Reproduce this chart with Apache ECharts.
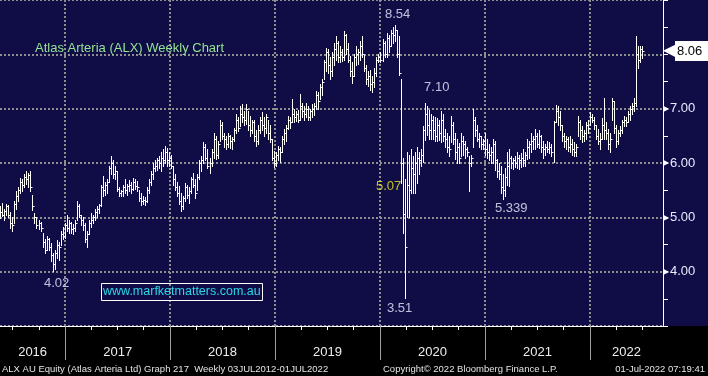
<!DOCTYPE html>
<html>
<head>
<meta charset="utf-8">
<script src="https://cdn.jsdelivr.net/npm/echarts@6/dist/echarts.min.js"></script>
<style>
html,body{margin:0;padding:0;background:#000;}
#chart{width:708px;height:376px;background:linear-gradient(#100c46 0,#100c46 326px,#000 326px);}
</style>
</head>
<body>
<div id="chart"></div>
<script>
// weekly bars, first week ending 20 May 2016, last 01 Jul 2022
const firstWeek = Date.UTC(2016, 4, 20);

const high = [
  5.20,5.27,5.15,5.25,5.22,5.10,5.00,5.30,5.48,5.55,
  5.73,5.70,5.80,5.85,5.82,5.85,5.42,5.08,5.00,4.96,
  4.92,4.71,4.60,4.65,4.62,4.52,4.35,4.40,4.59,4.55,
  4.75,4.83,4.90,5.05,4.95,4.92,4.88,4.95,5.30,5.25,
  5.05,5.00,4.90,4.75,4.95,5.08,5.05,5.15,5.20,5.25,
  5.60,5.76,5.65,5.70,5.95,6.13,6.05,5.95,5.85,5.55,
  5.51,5.60,5.70,5.62,5.68,5.65,5.72,5.70,5.66,5.51,
  5.45,5.40,5.38,5.55,5.70,5.85,6.00,6.05,6.10,6.13,
  6.20,6.25,6.31,6.28,6.20,6.15,5.94,5.80,5.65,5.57,
  5.45,5.40,5.64,5.60,5.55,5.75,5.82,5.70,5.80,6.05,
  6.13,6.38,6.35,6.25,6.10,6.25,6.56,6.50,6.40,6.80,
  6.75,6.56,6.50,6.55,6.52,6.48,6.65,6.90,6.85,7.05,
  7.08,6.95,7.08,6.95,6.87,6.80,6.80,6.60,6.70,6.85,
  6.93,6.85,6.90,6.80,6.70,6.45,6.23,6.20,6.32,6.30,
  6.50,6.62,6.70,6.87,6.85,7.17,6.99,6.95,6.98,7.27,
  7.11,7.05,7.10,7.05,7.00,7.08,7.10,7.33,7.30,7.45,
  7.54,7.90,8.12,8.10,7.95,8.05,8.20,8.34,8.25,8.15,
  8.10,8.43,8.38,8.20,7.97,7.85,8.00,8.15,8.10,8.25,
  8.34,7.98,7.80,7.70,7.72,7.60,7.75,7.95,8.00,8.05,
  8.28,8.25,8.40,8.35,8.45,8.50,8.54,8.45,8.34,7.55,
  6.10,5.70,6.20,6.15,6.25,6.13,6.20,6.30,6.20,6.25,
  6.68,7.10,7.05,6.98,6.90,6.87,6.85,6.82,6.80,6.95,
  6.90,6.62,6.55,6.50,6.87,6.75,6.55,6.45,6.37,6.55,
  6.50,6.40,6.30,6.13,6.15,6.99,6.85,6.70,6.55,6.50,
  6.45,6.55,6.45,6.35,6.30,6.44,6.40,6.07,6.00,5.95,
  5.80,5.90,6.20,6.26,6.13,6.10,6.12,6.20,6.15,6.18,
  6.26,6.20,6.44,6.40,6.56,6.50,6.63,6.55,6.60,6.52,
  6.40,6.35,6.40,6.38,6.35,6.78,7.07,7.05,6.95,6.70,
  6.55,6.50,6.48,6.50,6.45,6.38,6.35,6.87,6.80,6.68,
  6.60,6.75,6.80,6.93,6.90,6.85,6.70,6.62,6.55,6.82,
  7.20,6.75,6.62,6.55,7.20,7.15,6.70,6.60,6.68,6.80,
  6.87,6.85,6.95,7.05,7.10,7.20,8.34,8.15,8.15,8.15
];

const low = [
  4.98,5.02,4.96,5.05,5.00,4.80,4.74,4.90,5.15,5.30,
  5.45,5.48,5.55,5.62,5.55,5.48,5.14,4.90,4.80,4.78,
  4.75,4.45,4.34,4.40,4.40,4.20,4.02,4.05,4.25,4.22,
  4.50,4.60,4.62,4.75,4.71,4.72,4.70,4.75,4.95,5.00,
  4.85,4.77,4.55,4.46,4.70,4.83,4.90,4.96,5.00,5.08,
  5.20,5.40,5.42,5.45,5.65,5.80,5.72,5.70,5.48,5.40,
  5.39,5.40,5.45,5.42,5.48,5.44,5.50,5.52,5.48,5.30,
  5.23,5.25,5.22,5.28,5.45,5.60,5.70,5.85,5.88,5.90,
  5.85,5.95,6.00,5.95,5.94,5.90,5.60,5.50,5.39,5.25,
  5.11,5.15,5.30,5.35,5.27,5.45,5.55,5.36,5.50,5.70,
  5.85,6.00,6.05,5.90,5.82,5.95,6.10,6.07,6.10,6.40,
  6.44,6.30,6.26,6.30,6.28,6.26,6.40,6.56,6.58,6.68,
  6.75,6.70,6.72,6.60,6.50,6.55,6.40,6.32,6.35,6.55,
  6.60,6.50,6.55,6.45,6.38,6.05,5.92,5.95,6.05,6.01,
  6.20,6.35,6.40,6.62,6.65,6.75,6.75,6.78,6.75,6.80,
  6.85,6.80,6.85,6.80,6.80,6.85,6.88,7.00,6.99,7.17,
  7.25,7.54,7.70,7.65,7.54,7.60,7.80,7.90,7.85,7.85,
  7.88,7.90,8.00,7.85,7.60,7.48,7.60,7.80,7.82,7.90,
  7.95,7.70,7.45,7.42,7.35,7.30,7.40,7.60,7.85,7.85,
  7.88,7.95,7.95,8.05,8.15,8.20,8.25,7.95,7.62,5.64,
  4.72,3.51,5.00,5.00,5.45,5.45,5.45,5.63,5.80,5.95,
  6.01,6.43,6.52,6.45,6.45,6.45,6.40,6.40,6.42,6.38,
  6.40,6.30,6.20,6.13,6.38,6.35,6.07,6.00,6.00,6.13,
  6.15,6.10,6.12,5.48,5.95,6.30,6.50,6.40,6.30,6.25,
  6.25,6.15,6.10,6.05,6.00,6.00,5.88,5.75,5.70,5.45,
  5.34,5.40,5.60,5.58,5.90,5.89,5.92,5.90,5.89,5.92,
  5.95,5.95,6.07,6.10,6.20,6.25,6.26,6.30,6.28,6.20,
  6.10,6.15,6.20,6.18,6.12,6.01,6.75,6.70,6.60,6.40,
  6.30,6.25,6.22,6.20,6.15,6.13,6.13,6.50,6.45,6.38,
  6.40,6.45,6.55,6.70,6.75,6.62,6.45,6.35,6.26,6.45,
  6.44,6.45,6.26,6.20,6.80,6.55,6.30,6.35,6.50,6.55,
  6.68,6.68,6.75,6.80,6.90,6.95,7.05,7.75,7.85,7.94
];

const close = [
  5.10,5.05,5.12,5.20,5.05,4.90,4.85,5.25,5.40,5.50,
  5.65,5.60,5.75,5.70,5.78,5.55,5.20,5.00,4.85,4.90,
  4.80,4.55,4.40,4.60,4.45,4.30,4.15,4.35,4.50,4.45,
  4.70,4.65,4.85,4.80,4.90,4.78,4.80,4.90,5.20,5.05,
  4.95,4.85,4.60,4.70,4.90,4.95,5.00,5.10,5.15,5.22,
  5.55,5.50,5.60,5.65,5.90,6.00,5.80,5.85,5.52,5.45,
  5.48,5.55,5.50,5.58,5.60,5.52,5.65,5.58,5.55,5.35,
  5.30,5.32,5.30,5.50,5.65,5.80,5.90,5.95,6.05,6.00,
  6.10,6.05,6.20,6.05,6.10,5.95,5.70,5.55,5.45,5.30,
  5.20,5.35,5.55,5.42,5.48,5.70,5.60,5.45,5.75,6.00,
  6.05,6.30,6.10,5.95,6.00,6.20,6.45,6.15,6.35,6.70,
  6.50,6.45,6.35,6.50,6.40,6.45,6.60,6.80,6.65,6.90,
  6.85,6.80,7.00,6.70,6.60,6.75,6.50,6.40,6.60,6.80,
  6.70,6.65,6.85,6.55,6.45,6.10,6.00,6.15,6.25,6.20,
  6.45,6.55,6.65,6.80,6.75,6.90,6.85,6.90,6.80,7.05,
  6.95,6.90,7.00,6.85,6.95,7.00,7.05,7.25,7.15,7.40,
  7.50,7.85,8.05,7.80,7.70,7.95,8.10,8.20,7.95,8.05,
  7.95,8.35,8.10,7.90,7.70,7.60,7.95,8.00,8.05,8.15,
  8.00,7.75,7.55,7.60,7.45,7.50,7.65,7.90,7.95,7.90,
  8.20,8.00,8.30,8.15,8.40,8.35,8.45,8.00,7.65,6.00,
  5.07,4.45,5.60,5.50,5.90,5.80,6.00,6.10,6.05,6.15,
  6.60,6.90,6.70,6.60,6.80,6.60,6.50,6.70,6.55,6.80,
  6.50,6.45,6.30,6.25,6.70,6.45,6.20,6.30,6.10,6.40,
  6.35,6.25,6.20,6.00,6.10,6.80,6.60,6.45,6.50,6.35,
  6.40,6.25,6.20,6.15,6.20,6.35,6.05,5.85,5.80,5.55,
  5.50,5.75,5.95,6.10,6.00,6.05,6.00,6.10,6.05,6.10,
  6.05,6.15,6.30,6.35,6.40,6.45,6.50,6.35,6.50,6.30,
  6.25,6.30,6.25,6.30,6.20,6.75,6.95,6.85,6.70,6.50,
  6.40,6.45,6.30,6.35,6.25,6.20,6.30,6.75,6.60,6.50,
  6.55,6.70,6.65,6.85,6.80,6.70,6.50,6.40,6.45,6.70,
  6.60,6.55,6.35,6.45,7.15,6.65,6.40,6.55,6.60,6.75,
  6.80,6.75,6.90,7.00,7.05,7.10,8.00,7.90,8.10,8.06
];

// callouts: week index, which value, text
const notes = [
  {i: 196, key: 'high',  text: '8.54',  color: '#e8eeff', dx: 3,  dy: -11},
  {i: 211, key: 'high',  text: '7.10',  color: '#e8eeff', dx: 12, dy: -16},
  {i: 200, key: 'close', text: '5.07',  color: '#ecec1c', dx: -14, dy: -27},
  {i: 201, key: 'low',   text: '3.51',  color: '#e8eeff', dx: -5, dy: 10},
  {i: 26,  key: 'low',   text: '4.02',  color: '#e8eeff', dx: 4,  dy: 13},
  {i: 250, key: 'low',   text: '5.339', color: '#e8eeff', dx: 8,  dy: 10}
];

const DAY = 86400000;
const xMin = Date.UTC(2016, 4, 19);
const xMax = Date.UTC(2022, 8, 12);
const dates = close.map((c, i) => firstWeek + i * 7 * DAY);
const cols = {high: high, low: low, close: close};
const lastClose = close[close.length - 1];

const quarterTicks = [];
const yearStarts = [];
const yearMids = [];
for (let y = 2016; y <= 2022; y++) {
  for (let m = 0; m < 12; m += 3) {
    const t = Date.UTC(y, m, 1);
    if (t > xMin && t < xMax) quarterTicks.push(t);
  }
  const s = Date.UTC(y, 0, 1), e = Date.UTC(y + 1, 0, 1);
  if (s > xMin) yearStarts.push(s);
  yearMids.push((Math.max(s, xMin) + Math.min(e, xMax)) / 2);
}

const chart = echarts.init(document.getElementById('chart'));
const font = 'Liberation Sans';
const footStyle = {color: '#e4e4e4', fontSize: 9.5, fontWeight: 'normal', fontFamily: font};

chart.setOption({
  animation: false,
  backgroundColor: 'transparent',
  textStyle: {fontFamily: font},
  title: [
    {text: 'Atlas Arteria (ALX) Weekly Chart', left: 35, top: 42, padding: 0,
     textStyle: {color: '#94e494', fontSize: 13, fontWeight: 'normal', fontFamily: font}},
    {text: 'www.marfketmatters.com.au', left: 101, top: 283, padding: [2, 2, 3, 2],
     borderColor: '#ffffff', borderWidth: 1,
     textStyle: {color: '#2ad6e8', fontSize: 12.5, fontWeight: 'normal', fontFamily: font}},
    {text: 'ALX AU Equity (Atlas Arteria Ltd) Graph 217  Weekly 03JUL2012-01JUL2022', left: 2, top: 364, padding: 0, textStyle: footStyle},
    {text: 'Copyright\u00a9 2022 Bloomberg Finance L.P.', left: 383, top: 364, padding: 0, textStyle: footStyle},
    {text: '01-Jul-2022 07:19:41', right: 3, top: 364, padding: 0, textStyle: footStyle}
  ],
  grid: {left: 0, top: 0, right: 45, bottom: 50, containLabel: false, outerBoundsMode: 'none'},
  xAxis: [{
    type: 'value', min: xMin, max: xMax, position: 'bottom',
    axisLine: {show: true, lineStyle: {color: '#ffffff', width: 1}},
    axisTick: {show: true, customValues: quarterTicks, length: 4, lineStyle: {color: '#ffffff'}},
    axisLabel: {customValues: yearMids, margin: 20, color: '#eeeeee', fontSize: 13, fontFamily: font,
      formatter: v => String(new Date(v).getUTCFullYear())},
    splitLine: {show: false}
  }, {
    type: 'value', min: xMin, max: xMax, position: 'bottom',
    axisLine: {show: false},
    axisTick: {show: true, customValues: yearStarts, length: 34, lineStyle: {color: '#a0a0a0'}},
    axisLabel: {show: false},
    splitLine: {show: true, lineStyle: {color: '#8e8e8e', type: [2, 2], width: 2}}
  }],
  yAxis: [{
    type: 'value', position: 'right', min: 3, max: 9, interval: 1,
    axisLine: {show: true, lineStyle: {color: '#ffffff', width: 1}},
    axisTick: {show: true, length: 5, lineStyle: {color: '#ffffff'}},
    minorTick: {show: true, splitNumber: 2, length: 5, lineStyle: {color: '#ffffff'}},
    axisLabel: {margin: 0,
      formatter: v => (v >= 4 && v <= 7) ? '{t|\u25b6}{n|' + v.toFixed(2) + '}' : '',
      rich: {t: {color: '#ffffff', fontSize: 8, padding: [0, 1, 0, 0]},
             n: {color: '#e6ecff', fontSize: 13, fontFamily: font}}},
    splitLine: {show: true, lineStyle: {color: '#8e8e8e', type: [2, 2], width: 2}}
  }, {
    type: 'value', position: 'right', min: 3, max: 9,
    axisLine: {show: false}, axisTick: {show: false}, splitLine: {show: false},
    axisLabel: {customValues: [lastClose], margin: 0,
      formatter: v => '{t|\u25c0}{b|' + v.toFixed(2) + '}',
      rich: {t: {color: '#ffffff', fontSize: 16, padding: [0, 0, 0, 0]},
             b: {backgroundColor: '#ffffff', color: '#000000', fontSize: 13, fontFamily: font, padding: [4, 8, 3, 2]}}}
  }],
  series: [{
    type: 'custom',
    xAxisIndex: 0, yAxisIndex: 0,
    data: dates.map((d, i) => [d, high[i], low[i], close[i]]),
    encode: {x: 0, y: [1, 2, 3]},
    renderItem: function (params, api) {
      const hi = api.coord([api.value(0), api.value(1)]);
      const lo = api.coord([api.value(0), api.value(2)]);
      const cl = api.coord([api.value(0), api.value(3)]);
      const x = Math.round(hi[0]) + 0.5;
      const yc = Math.round(cl[1]) + 0.5;
      return {
        type: 'group',
        children: [
          {type: 'line', shape: {x1: x, y1: Math.round(hi[1]), x2: x, y2: Math.round(lo[1]) + 1},
           style: {stroke: '#ffffff', lineWidth: 1}},
          {type: 'line', shape: {x1: x, y1: yc, x2: x + 2, y2: yc},
           style: {stroke: '#ffffff', lineWidth: 1}}
        ]
      };
    }
  }, {
    type: 'scatter',
    xAxisIndex: 0, yAxisIndex: 0,
    symbolSize: 1,
    itemStyle: {color: 'transparent'},
    silent: true,
    data: notes.map(n => ({
      value: [dates[n.i], cols[n.key][n.i]],
      label: {show: true, position: 'inside', formatter: n.text, color: n.color,
              fontSize: 13, fontFamily: font, offset: [n.dx, n.dy]}
    }))
  }]
});
</script>
</body>
</html>
